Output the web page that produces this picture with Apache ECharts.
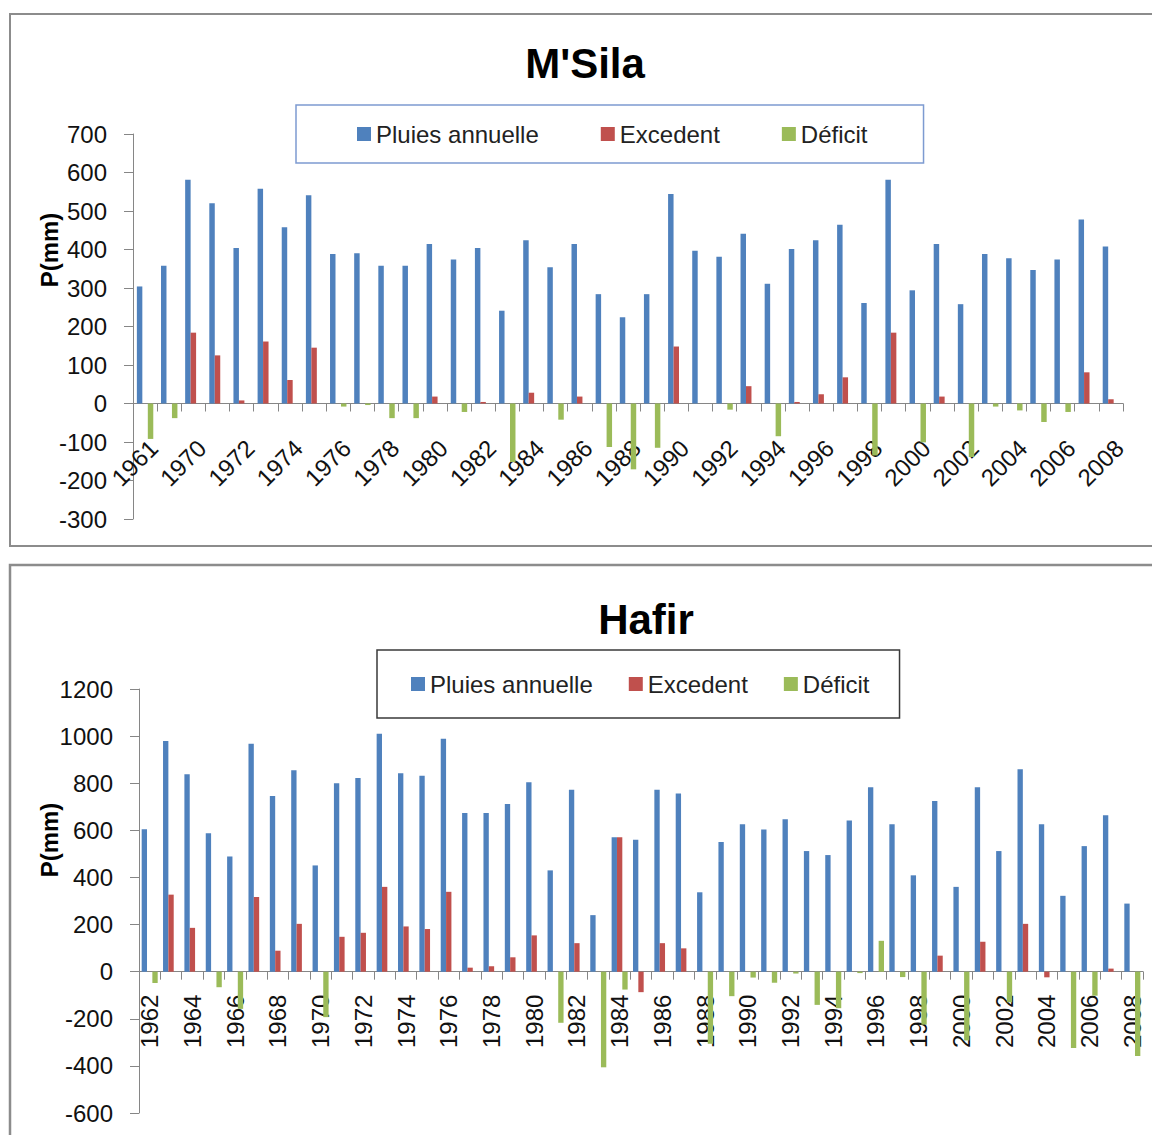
<!DOCTYPE html>
<html>
<head>
<meta charset="utf-8">
<script src="https://cdn.jsdelivr.net/npm/echarts@6/dist/echarts.min.js"></script>
<style>
html, body { margin: 0; padding: 0; background: #fff; }
#chart { width: 1152px; height: 1135px; }
</style>
</head>
<body>
<div id="chart"></div>
<script>
// M'Sila
var msYears = ['1961', '1969', '1970', '1971', '1972', '1973', '1974', '1975', '1976', '1977',
  '1978', '1979', '1980', '1981', '1982', '1983', '1984', '1985', '1986', '1987',
  '1988', '1989', '1990', '1991', '1992', '1993', '1994', '1995', '1996', '1997',
  '1998', '1999', '2000', '2001', '2002', '2003', '2004', '2005', '2006', '2007', '2008'];
var msPluies = [304, 358, 581, 520, 404, 558, 458, 541, 388, 390,
  358, 358, 414, 374, 404, 241, 424, 354, 414, 284,
  224, 284, 544, 397, 381, 441, 311, 401, 424, 464,
  261, 581, 294, 414, 258, 388, 377, 347, 374, 478, 408];
var msExcedent = [0, 0, 184, 125, 8, 161, 61, 145, 0, 0,
  0, 0, 18, 0, 4, 0, 28, 0, 18, 0,
  0, 0, 148, 0, 0, 45, 0, 4, 24, 68,
  0, 184, 0, 18, 0, 0, 0, 0, 0, 81, 11];
var msDeficit = [-92, -38, 0, 0, 0, 0, 0, 0, -8, -4,
  -38, -38, 0, -22, 0, -152, 0, -42, 0, -113,
  -171, -115, 0, 0, -16, 0, -85, 0, 0, 0,
  -135, 0, -101, 0, -139, -8, -18, -48, -22, 0, 0];

// Hafir
var hfYears = ['1962', '1963', '1964', '1965', '1966', '1967', '1968', '1969', '1970', '1971',
  '1972', '1973', '1974', '1975', '1976', '1977', '1978', '1979', '1980', '1981',
  '1982', '1983', '1984', '1985', '1986', '1987', '1988', '1989', '1990', '1991',
  '1992', '1993', '1994', '1995', '1996', '1997', '1998', '1999', '2000', '2001',
  '2002', '2003', '2004', '2005', '2006', '2007', '2008'];
var hfPluies = [605, 979, 838, 588, 489, 968, 746, 855, 451, 800,
  822, 1010, 842, 832, 989, 674, 674, 712, 804, 430,
  772, 240, 571, 560, 772, 756, 337, 550, 626, 604,
  647, 512, 495, 642, 783, 626, 409, 724, 360, 783,
  512, 859, 626, 322, 533, 664, 289];
var hfExcedent = [0, 327, 186, 0, 0, 317, 89, 203, 0, 148,
  165, 360, 192, 181, 339, 17, 23, 61, 154, 0,
  121, 0, 571, -87, 121, 99, 0, 0, 0, 0,
  0, 0, 0, 0, 0, 0, 0, 68, 0, 127,
  0, 203, -24, 0, 0, 13, 0];
var hfDeficit = [-48, 0, 0, -66, -158, 0, 0, 0, -193, 0,
  0, 0, 0, 0, 0, 0, 0, 0, 0, -217,
  0, -406, -76, 0, 0, 0, -306, -104, -25, -47,
  -8, -141, -155, -6, 131, -23, -225, 0, -292, 0,
  -130, 0, 0, -324, -102, 0, -358];

var seriesNames = ['Pluies annuelle', 'Excedent', 'Déficit'];
var colors = ['#4f81bd', '#c0504d', '#9bbb59'];
var font = "'Liberation Sans', Arial, sans-serif";

var myChart = echarts.init(document.getElementById('chart'), null, { renderer: 'svg' });

// grids: x axis sits on the zero line, shifted up from the grid bottom
var grids = [
  { left: 133, top: 134, width: 990, height: 385, min: -300, max: 700, step: 100 },
  { left: 139, top: 689, width: 1004, height: 424, min: -600, max: 1200, step: 200 }
];

function valueAxis(idx) {
  var g = grids[idx];
  return {
    type: 'value', gridIndex: idx, min: g.min, max: g.max, interval: g.step,
    axisLine: { show: true, lineStyle: { color: '#868686', width: 1 } },
    axisTick: { show: true, length: 9, lineStyle: { color: '#868686' } },
    axisLabel: { color: '#111', fontSize: 24, fontFamily: font, margin: 26,
      formatter: function (v) { return String(v); } },
    splitLine: { show: false }
  };
}

function catAxis(idx, years, rot, margin, valign) {
  var g = grids[idx];
  var zeroOffset = g.height * (0 - g.min) / (g.max - g.min);
  return {
    type: 'category', gridIndex: idx, data: years, position: 'bottom',
    offset: -zeroOffset,
    axisLine: { onZero: false, lineStyle: { color: '#868686', width: 1 } },
    axisTick: { show: true, interval: 0, length: 8, lineStyle: { color: '#868686' } },
    axisLabel: {
      interval: 1, rotate: rot, margin: margin, color: '#111',
      fontSize: 24, fontFamily: font, verticalAlign: valign
    }
  };
}

function bars(idx, arrs, gap) {
  return arrs.map(function (d, i) {
    return {
      name: seriesNames[i], type: 'bar', xAxisIndex: idx, yAxisIndex: idx,
      data: d, barGap: '0%', barCategoryGap: gap,
      itemStyle: { color: colors[i] }
    };
  });
}

var option = {
  backgroundColor: '#fff',
  animation: false,
  color: colors,
  title: [
    { text: "M'Sila", left: 580, top: 37, textAlign: 'center',
      textStyle: { fontSize: 42, fontWeight: 'bold', fontFamily: font, color: '#000' } },
    { text: 'Hafir', left: 641, top: 593, textAlign: 'center',
      textStyle: { fontSize: 42, fontWeight: 'bold', fontFamily: font, color: '#000' } }
  ],
  legend: [
    { left: 296, top: 105, data: seriesNames, icon: 'rect', itemWidth: 14, itemHeight: 14,
      itemGap: 62, padding: [17, 56, 17, 61], borderColor: '#7d9bd1', borderWidth: 1.5,
      textStyle: { fontSize: 24, fontFamily: font, color: '#222' } },
    { left: 377, top: 650, data: seriesNames, icon: 'rect', itemWidth: 14, itemHeight: 14,
      itemGap: 36, padding: [22, 30, 22, 34], borderColor: '#3a3a3a', borderWidth: 1.5,
      textStyle: { fontSize: 24, fontFamily: font, color: '#222' } }
  ],
  grid: grids.map(function (g) {
    return { left: g.left, top: g.top, width: g.width, height: g.height, containLabel: false };
  }),
  xAxis: [
    catAxis(0, msYears, 45, 32, 'top'),
    catAxis(1, hfYears, 90, 23, 'middle')
  ],
  yAxis: [valueAxis(0), valueAxis(1)],
  graphic: [
    { type: 'rect', shape: { x: 10, y: 14, width: 1160, height: 532 },
      style: { fill: 'none', stroke: '#8c8c8c', lineWidth: 2 }, z: -1 },
    { type: 'rect', shape: { x: 10, y: 565, width: 1160, height: 600 },
      style: { fill: 'none', stroke: '#8c8c8c', lineWidth: 2.5 }, z: -1 },
    { type: 'text', x: 49, y: 250, rotation: Math.PI / 2,
      style: { text: 'P(mm)', fontSize: 24, fontWeight: 'bold', fontFamily: font,
        fill: '#000', align: 'center', verticalAlign: 'middle' } },
    { type: 'text', x: 49, y: 840, rotation: Math.PI / 2,
      style: { text: 'P(mm)', fontSize: 24, fontWeight: 'bold', fontFamily: font,
        fill: '#000', align: 'center', verticalAlign: 'middle' } }
  ],
  series: bars(0, [msPluies, msExcedent, msDeficit], '32%')
    .concat(bars(1, [hfPluies, hfExcedent, hfDeficit], '25%'))
};

myChart.setOption(option);
window.addEventListener('resize', function () {
  myChart.resize();
});
</script>
</body>
</html>
